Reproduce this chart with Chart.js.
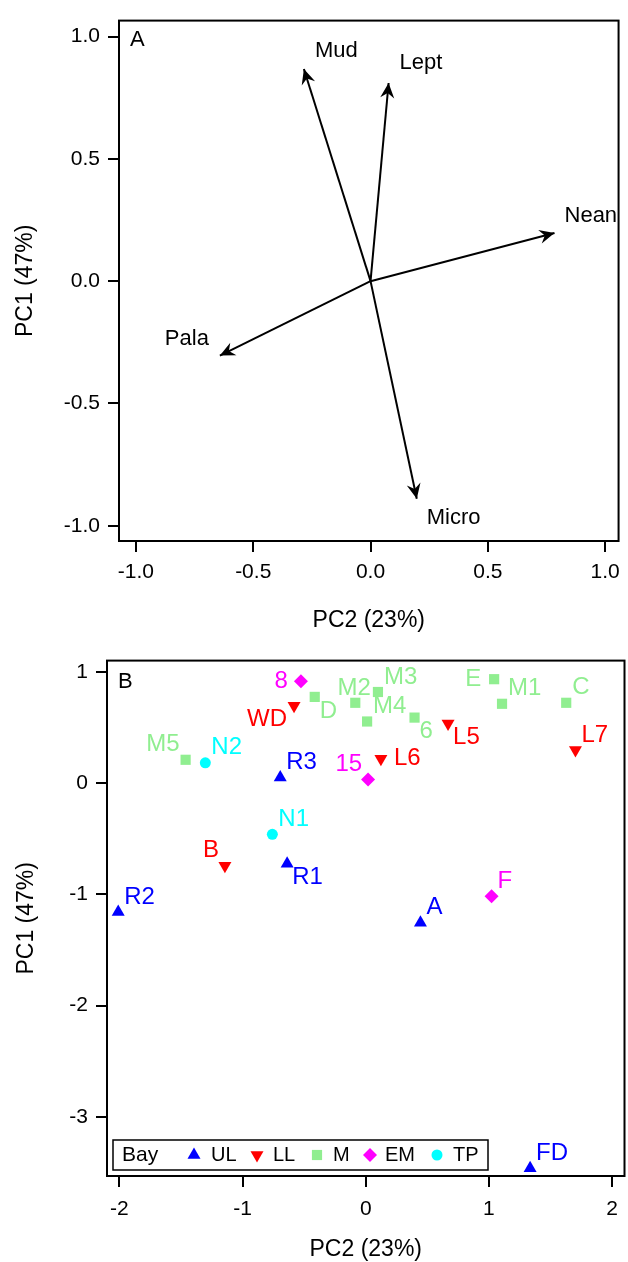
<!DOCTYPE html>
<html><head><meta charset="utf-8">
<script src="https://cdn.jsdelivr.net/npm/chart.js@4"></script>
<style>
html,body{margin:0;padding:0;background:#fff;overflow:hidden;width:628px;height:1262px}
#wa{position:absolute;left:0;top:0;width:628px;height:640px;overflow:hidden}
#wb{position:absolute;left:0;top:640px;width:628px;height:622px;overflow:hidden}
canvas{display:block}
</style></head><body>
<div id="wa"><canvas id="ca" width="628" height="640"></canvas></div>
<div id="wb"><canvas id="cb" width="632" height="622"></canvas></div>
<script>
// ---------- Panel A data (loadings) ----------
const arrowLabels = ['Mud', 'Lept', 'Nean', 'Pala', 'Micro'];
const arrowPC2 = [-0.284, 0.077, 0.784, -0.642, 0.197];
const arrowPC1 = [0.867, 0.810, 0.197, -0.304, -0.889];
const ticksA = [-1.0, -0.5, 0.0, 0.5, 1.0];

// ---------- Panel B data (sites) ----------
const sites   = ['8', 'D', 'WD', 'M2', 'M3', 'M4', '6', 'E', 'M1', 'C', 'L5', 'L7', 'M5', 'N2', 'R3', '15', 'L6', 'N1', 'B', 'R1', 'R2', 'A', 'F', 'FD'];
const sitePC2 = [-0.526, -0.414, -0.582, -0.085, 0.099, 0.011, 0.396, 1.042, 1.106, 1.627, 0.668, 1.702, -1.462, -1.302, -0.694, 0.019, 0.123, -0.758, -1.143, -0.638, -2.009, 0.444, 1.021, 1.334];
const sitePC1 = [0.915, 0.774, 0.694, 0.721, 0.818, 0.553, 0.588, 0.933, 0.712, 0.721, 0.536, 0.297, 0.209, 0.182, 0.050, 0.033, 0.218, -0.461, -0.744, -0.726, -1.158, -1.255, -1.016, -3.460];
const siteBay = ['EM', 'M', 'LL', 'M', 'M', 'M', 'M', 'M', 'M', 'M', 'LL', 'LL', 'M', 'TP', 'UL', 'EM', 'LL', 'TP', 'LL', 'UL', 'UL', 'UL', 'EM', 'UL'];
const bays = ['UL', 'LL', 'M', 'EM', 'TP'];
const ticksBx = [-2, -1, 0, 1, 2];
const ticksBy = [-3, -2, -1, 0, 1];

// ---------- styling / placement (not data) ----------
const FONT = "'Liberation Sans', Arial, Helvetica, sans-serif";
Chart.defaults.font.family = FONT;
Chart.defaults.color = '#000';
const arrowLabelPlace = [[11, -18, 'left'], [11, -20, 'left'], [10, -17, 'left'], [-11, -17, 'right'], [10, 19, 'left']];
const siteLabelSide = ['w', 'se', 'sw', 'n', 'ne', 'ne', 'se', 'w', 'ne', 'ne', 'se', 'ne', 'nw', 'ne', 'ne', 'nw', 'e', 'ne', 'nw', 'se', 'ne', 'ne', 'ne', 'ne'];
const sidePlace = {
  ne: {dx: 6, dy: -15, align: 'left'},
  nw: {dx: -6, dy: -15, align: 'right'},
  se: {dx: 5, dy: 14, align: 'left'},
  sw: {dx: -7, dy: 14, align: 'right'},
  w:  {dx: -13, dy: 0, align: 'right'},
  e:  {dx: 13, dy: 0, align: 'left'},
  n:  {dx: -1, dy: -14, align: 'center'}
};
const bayColors = ['#0000FF', '#FF0000', '#90EE90', '#FF00FF', '#00FFFF'];
const bayStyle = [
  {style: 'triangle', rot: 0, r: 7.5},
  {style: 'triangle', rot: 180, r: 7.5},
  {style: 'rect', rot: 0, r: 7.2},
  {style: 'rectRot', rot: 0, r: 7},
  {style: 'circle', rot: 0, r: 5.5}
];

const framePlugin = {
  id: 'frame',
  beforeDatasetsDraw(chart) {
    const {ctx, chartArea: a} = chart;
    ctx.save();
    ctx.strokeStyle = '#000';
    ctx.lineWidth = 2;
    ctx.strokeRect(a.left, a.top, a.right - a.left, a.bottom - a.top);
    ctx.restore();
  }
};

function axisCommon(ticksArr, fmt, pad) {
  return {
    type: 'linear',
    afterBuildTicks: s => { s.ticks = ticksArr.map(v => ({value: v})); },
    grid: {drawOnChartArea: false, drawTicks: true, tickLength: 11, color: '#000', lineWidth: 2},
    border: {display: false},
    ticks: {color: '#000', font: {size: 21}, padding: pad, callback: fmt, maxRotation: 0, autoSkip: false}
  };
}

// ---------- Chart A ----------
const arrowPlugin = {
  id: 'arrows',
  afterDatasetsDraw(chart) {
    const ctx = chart.ctx;
    ctx.save();
    chart.data.datasets.forEach((ds, i) => {
      const meta = chart.getDatasetMeta(i);
      const p0 = meta.data[0], p1 = meta.data[1];
      const a = Math.atan2(p1.y - p0.y, p1.x - p0.x);
      const c = Math.cos(a), s = Math.sin(a);
      const L = 15, W = 7, N = 5;
      ctx.fillStyle = '#000';
      ctx.beginPath();
      ctx.moveTo(p1.x, p1.y);
      ctx.lineTo(p1.x - L * c - W * s, p1.y - L * s + W * c);
      ctx.lineTo(p1.x - (L - N) * c, p1.y - (L - N) * s);
      ctx.lineTo(p1.x - L * c + W * s, p1.y - L * s - W * c);
      ctx.closePath();
      ctx.fill();
      const pl = arrowLabelPlace[i];
      ctx.font = '22px ' + FONT;
      ctx.textAlign = pl[2];
      ctx.textBaseline = 'middle';
      ctx.fillText(arrowLabels[i], p1.x + pl[0], p1.y + pl[1]);
    });
    const ar = chart.chartArea;
    ctx.font = '22px ' + FONT;
    ctx.textAlign = 'left';
    ctx.textBaseline = 'middle';
    ctx.fillText('A', ar.left + 11, ar.top + 19);
    ctx.restore();
  }
};

const xA = axisCommon(ticksA, v => Number(v).toFixed(1), 8);
Object.assign(xA, {min: -1.072, max: 1.057, afterFit: s => { s.height = 99; },
  title: {display: true, text: 'PC2 (23%)', color: '#000', font: {size: 23, lineHeight: 1}, padding: {top: 0, bottom: 8}}});
const yA = axisCommon(ticksA, v => Number(v).toFixed(1), 8);
Object.assign(yA, {min: -1.062, max: 1.065, afterFit: s => { s.width = 119; },
  title: {display: true, text: 'PC1 (47%)', color: '#000', font: {size: 23, lineHeight: 1}, padding: {top: 14, bottom: 0}}});

new Chart(document.getElementById('ca'), {
  type: 'scatter',
  data: {
    datasets: arrowLabels.map((lab, i) => ({
      label: lab,
      data: [{x: 0, y: 0}, {x: arrowPC2[i], y: arrowPC1[i]}],
      showLine: true,
      borderColor: '#000',
      borderWidth: 2,
      pointRadius: 0,
      fill: false,
      clip: false
    }))
  },
  options: {
    responsive: false,
    animation: false,
    layout: {padding: {left: 0, top: 14, right: 8, bottom: 0}},
    plugins: {legend: {display: false}, tooltip: {enabled: false}},
    scales: {x: xA, y: yA}
  },
  plugins: [framePlugin, arrowPlugin]
});

// ---------- Chart B ----------
function drawMarker(ctx, k, x, y) {
  const st = bayStyle[k];
  const r = st.r;
  ctx.fillStyle = bayColors[k];
  ctx.beginPath();
  if (st.style === 'triangle') {
    const rad = st.rot * Math.PI / 180;
    for (let j = 0; j < 3; j++) {
      const t = rad + j * 2 * Math.PI / 3;
      const px = x + Math.sin(t) * r, py = y - Math.cos(t) * r;
      if (j === 0) ctx.moveTo(px, py); else ctx.lineTo(px, py);
    }
    ctx.closePath();
  } else if (st.style === 'rect') {
    const h = r * Math.SQRT1_2;
    ctx.rect(x - h, y - h, 2 * h, 2 * h);
  } else if (st.style === 'rectRot') {
    ctx.moveTo(x, y - r); ctx.lineTo(x + r, y); ctx.lineTo(x, y + r); ctx.lineTo(x - r, y); ctx.closePath();
  } else {
    ctx.arc(x, y, r, 0, Math.PI * 2);
  }
  ctx.fill();
}

const siteLabelPlugin = {
  id: 'siteLabels',
  afterDatasetsDraw(chart) {
    const ctx = chart.ctx;
    ctx.save();
    ctx.font = '24px ' + FONT;
    ctx.textBaseline = 'middle';
    chart.data.datasets.forEach((ds, k) => {
      const meta = chart.getDatasetMeta(k);
      ds.data.forEach((d, j) => {
        const el = meta.data[j];
        const pl = sidePlace[siteLabelSide[d.i]];
        ctx.fillStyle = bayColors[k];
        ctx.textAlign = pl.align;
        ctx.fillText(sites[d.i], el.x + pl.dx, el.y + pl.dy);
      });
    });
    const ar = chart.chartArea;
    ctx.fillStyle = '#000';
    ctx.font = '22px ' + FONT;
    ctx.textAlign = 'left';
    ctx.fillText('B', ar.left + 11, ar.top + 21);
    // legend
    const bx = ar.left + 6, bh = 30, bw = 375, by = ar.bottom - 6 - bh;
    ctx.lineWidth = 1.5;
    ctx.strokeStyle = '#000';
    ctx.strokeRect(bx, by, bw, bh);
    const cy = by + bh / 2;
    ctx.font = '21px ' + FONT;
    ctx.fillStyle = '#000';
    ctx.fillText('Bay', bx + 9, cy);
    ctx.font = '20px ' + FONT;
    const mk = [81, 144, 204, 257, 324];
    const tx = [98, 160, 220, 272, 340];
    bays.forEach((b, k) => {
      drawMarker(ctx, k, bx + mk[k], cy);
      ctx.fillStyle = '#000';
      ctx.fillText(b, bx + tx[k], cy);
    });
    ctx.restore();
  }
};

const xB = axisCommon(ticksBx, v => String(v), 10);
Object.assign(xB, {min: -2.1, max: 2.1, afterFit: s => { s.height = 86; },
  title: {display: true, text: 'PC2 (23%)', color: '#000', font: {size: 23, lineHeight: 1}, padding: {top: 0, bottom: 1}}});
const yB = axisCommon(ticksBy, v => String(v), 8);
Object.assign(yB, {min: -3.53, max: 1.1, afterFit: s => { s.width = 107; },
  title: {display: true, text: 'PC1 (47%)', color: '#000', font: {size: 23, lineHeight: 1}, padding: {top: 15, bottom: 0}}});

new Chart(document.getElementById('cb'), {
  type: 'scatter',
  data: {
    datasets: bays.map((b, k) => ({
      label: b,
      data: sites.map((s, i) => ({x: sitePC2[i], y: sitePC1[i], i: i})).filter(d => siteBay[d.i] === b),
      pointStyle: bayStyle[k].style,
      pointRotation: bayStyle[k].rot,
      pointRadius: bayStyle[k].r,
      backgroundColor: bayColors[k],
      borderColor: bayColors[k],
      borderWidth: 0,
      showLine: false,
      clip: false
    }))
  },
  options: {
    responsive: false,
    animation: false,
    layout: {padding: {left: 0, top: 11, right: 1, bottom: 0}},
    plugins: {legend: {display: false}, tooltip: {enabled: false}},
    scales: {x: xB, y: yB}
  },
  plugins: [framePlugin, siteLabelPlugin]
});
</script>
</body></html>
